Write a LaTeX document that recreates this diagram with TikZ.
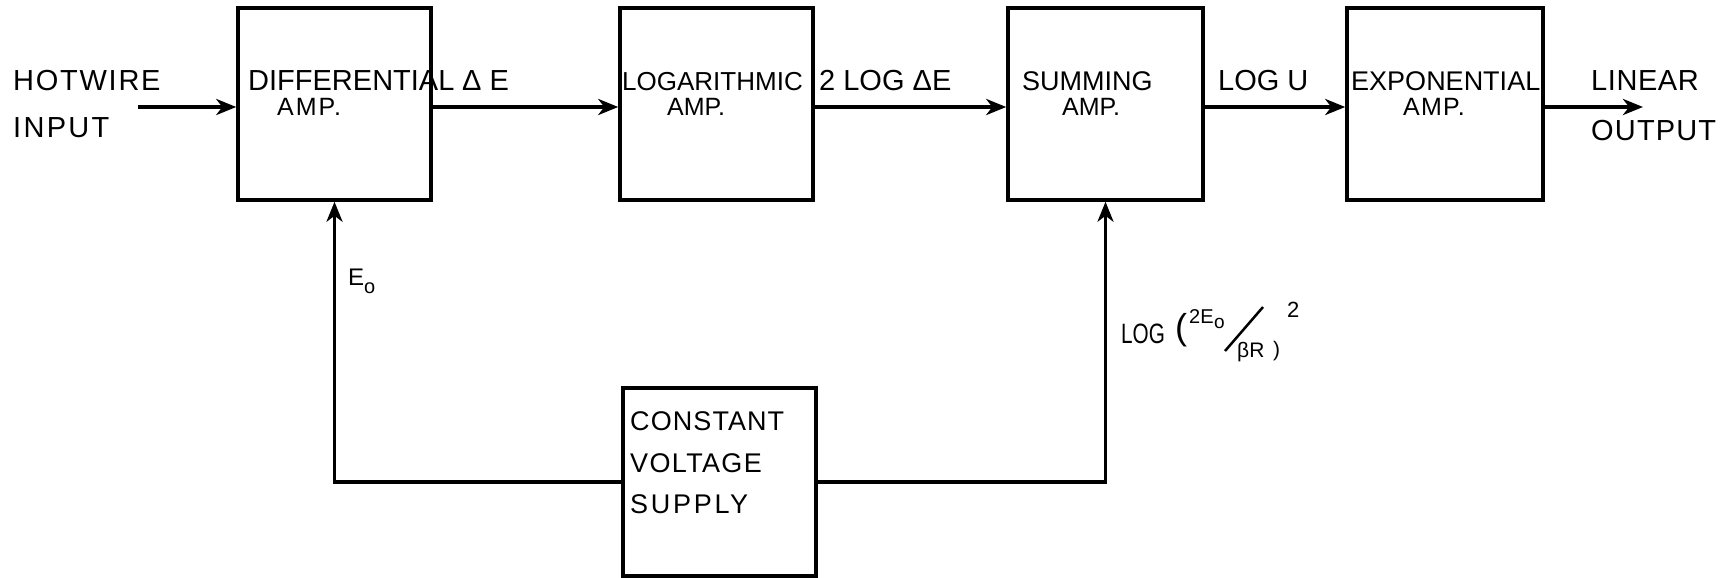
\documentclass[tikz,border=0pt]{standalone}
\usepackage{fontspec}
\setmainfont{Liberation Sans}
\usepackage{graphicx}
\usetikzlibrary{arrows.meta}
\newcommand\fsz[1]{\fontsize{#1}{#1}\selectfont}
\newcommand\lsp[1]{\addfontfeatures{LetterSpace=#1}}
\begin{document}
\begin{tikzpicture}[x=1pt,y=-1pt,
  blk/.style={draw, line width=3.5pt, minimum width=193pt, minimum height=192pt, inner sep=0pt},
  arr/.style={line width=3.5pt, -{Stealth[length=20pt,width=16pt,inset=6pt]}},
  txt/.style={anchor=base west, inner sep=0pt, font=\fsz{29}},
  amp/.style={txt, font=\fsz{25}},
  cvt/.style={txt, font=\fsz{27}},
]
\useasboundingbox (0,0) rectangle (1726,578);

% blocks
\node[blk] (diff) at (334.5,104) {};
\node[blk] (log) at (716.5,104) {};
\node[blk, minimum width=195pt] (sum) at (1105.5,104) {};
\node[blk, minimum width=196pt] (exp) at (1445,104) {};
\node[blk, minimum height=188pt] (cv) at (719.5,482) {};

% connectors
\coordinate (in) at (138,107);
\coordinate (out) at (1643,107);
\draw[arr] (in) -- (in -| diff.west);
\draw[arr] (in -| diff.east) -- (in -| log.west);
\draw[arr] (in -| log.east) -- (in -| sum.west);
\draw[arr] (in -| sum.east) -- (in -| exp.west);
\draw[arr] (in -| exp.east) -- (out);
\draw[arr] (cv.west) -| (diff.south);
\draw[arr] (cv.east) -| (sum.south);

% texts
\node[txt] (hw) at (13,90) {\lsp{6}HOTWIRE};
\node[txt] (inp) at (13,137) {\lsp{8}INPUT};
\node[txt] (difft) at (248,90) {DIFFERENTIAL};
\node[amp] (diffa) at (277,115) {\lsp{8}AMP.};
\node[txt] (de) at (462,90) {Δ E};
\node[txt, font=\fsz{26}] (logt) at (622,90) {LOGARITHMIC};
\node[amp] (loga) at (667,115) {AMP.};
\node[txt] (lde) at (819,90) {2 LOG ΔE};
\node[txt, font=\fsz{27}] (sumt) at (1022,90) {SUMMING};
\node[amp] (suma) at (1062,115) {AMP.};
\node[txt] (lu) at (1218,90) {LOG U};
\node[txt, font=\fsz{27}] (expt) at (1351,90) {EXPONENTIAL};
\node[amp] (expa) at (1403,115) {\lsp{5}AMP.};
\node[txt] (lin) at (1591,90) {\lsp{2}LINEAR};
\node[txt] (outp) at (1591,140) {\lsp{4}OUTPUT};
\node[cvt] (cv1) at (630,430) {\lsp{4}CONSTANT};
\node[cvt] (cv2) at (630,472) {\lsp{5}VOLTAGE};
\node[cvt] (cv3) at (630,513) {\lsp{10}SUPPLY};

% E0 label
\node[txt, font=\fsz{24}] (e0) at (348,285) {E};
\node[txt, font=\fsz{20}] (e0s) at (364,293) {o};

% LOG(2E0/beta R)^2 label
\node[txt, font=\fsz{28}] (lgA) at (1121,343) {\scalebox{0.74}[1]{LOG}};
\node[txt, font=\fsz{36}] (lgP) at (1175,339) {(};
\node[txt, font=\fsz{20}] (lgB) at (1189,323) {2E};
\node[txt, font=\fsz{19}] (lgC) at (1214,328) {o};
\coordinate (sl1) at (1263,307);
\coordinate (sl2) at (1225,351);
\draw[line width=2.5pt] (sl1) -- (sl2);
\node[txt, font=\fsz{21}] (lgD) at (1237,357) {βR};
\node[txt, font=\fsz{21}] (lgE) at (1273,356) {)};
\node[txt, font=\fsz{22}] (lgF) at (1287,317) {2};
\end{tikzpicture}
\end{document}
